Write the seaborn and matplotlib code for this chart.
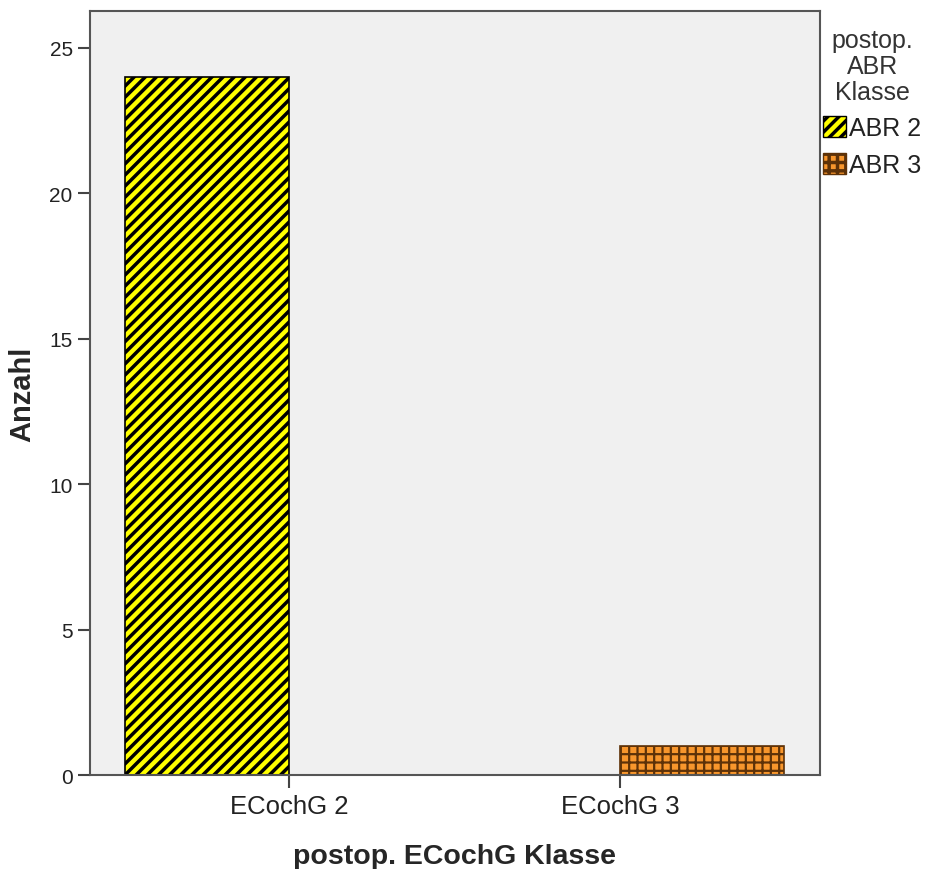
import matplotlib
matplotlib.use("Agg")
import matplotlib.pyplot as plt
import seaborn as sns
import pandas as pd
from matplotlib.patches import Patch

categories = ["ECochG 2", "ECochG 2", "ECochG 3", "ECochG 3"]
hue_levels = ["ABR 2", "ABR 3", "ABR 2", "ABR 3"]
counts = [24, 0, 0, 1]
yticks = [0, 5, 10, 15, 20, 25]

df = pd.DataFrame({"ecochg": categories, "abr": hue_levels, "n": counts})

sns.set_style("ticks")
plt.rcParams["font.family"] = ["Liberation Sans", "DejaVu Sans"]
plt.rcParams["hatch.linewidth"] = 2.5

colors = {"ABR 2": "#FFFF00", "ABR 3": "#F8962C"}
hatches = {"ABR 2": "///", "ABR 3": "++"}
hatch_cols = {"ABR 2": "black", "ABR 3": "#5e3208"}
hatch_lw = {"ABR 2": 2.5, "ABR 3": 1.6}


def style_patch(p, lvl):
    p.set_hatch(hatches[lvl])
    if hasattr(p, "set_hatchcolor"):
        p.set_hatchcolor(hatch_cols[lvl])
        p.set_edgecolor("black")
    else:
        p.set_edgecolor(hatch_cols[lvl] if lvl == "ABR 3" else "black")
    if hasattr(p, "set_hatch_linewidth"):
        p.set_hatch_linewidth(hatch_lw[lvl])


fig = plt.figure(figsize=(9.32, 8.7), dpi=100)
ax = fig.add_axes([90/932, 1-776/870, (820-90)/932, (776-12)/870])
ax.set_facecolor("#F0F0F0")

sns.barplot(data=df, x="ecochg", y="n", hue="abr", palette=colors,
            saturation=1, width=0.99, ax=ax, legend=False,
            edgecolor="black", linewidth=1.2)

order = ["ABR 2", "ABR 3"]
for container, lvl in zip(ax.containers, order):
    for bar in container:
        style_patch(bar, lvl)

ax.set_xlim(-0.601, 1.604)
ax.set_ylim(0, 26.27)
ax.set_yticks(yticks)
ax.set_yticklabels([str(t) for t in yticks])
ax.tick_params(axis="both", direction="out", length=9, width=1.5, color="#444444",
               labelsize=15, labelcolor="#222222")
ax.tick_params(axis="x", labelsize=18.5, pad=5)
for s in ax.spines.values():
    s.set_visible(True)
    s.set_color("#555555")
    s.set_linewidth(1.5)

ax.set_xlabel("postop. ECochG Klasse", fontsize=20.5, fontweight="bold", labelpad=18)
ax.set_ylabel("Anzahl", fontsize=21, fontweight="bold", labelpad=9)

handles = []
for l in order:
    h = Patch(facecolor=colors[l], label=l)
    style_patch(h, l)
    handles.append(h)
leg = fig.legend(handles=handles, title="postop.\nABR\nKlasse", loc="upper left",
                 bbox_to_anchor=(823/932, 1-29/870), frameon=False, fontsize=18,
                 title_fontsize=18, handlelength=0.9, handleheight=0.9,
                 handletextpad=0.15, labelspacing=0.5, borderaxespad=0,
                 borderpad=0)
leg.get_title().set_multialignment("center")
leg.get_title().set_linespacing(1.1)
leg.get_title().set_color("#333333")
for t in leg.get_texts():
    t.set_color("#222222")

fig.savefig("out.png", dpi=100)
